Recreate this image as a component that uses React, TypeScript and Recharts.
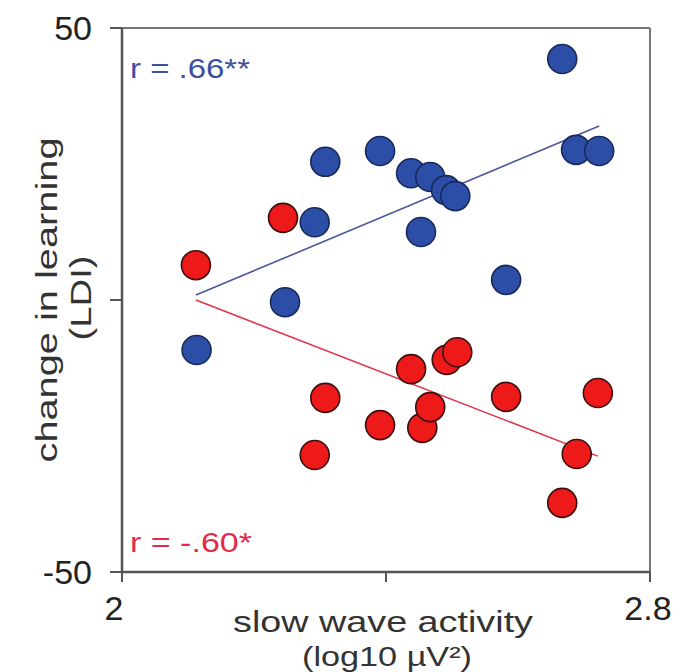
import { ScatterChart, Scatter, XAxis, YAxis, ReferenceLine, Customized } from 'recharts'

const blueX = [2.113, 2.247, 2.292, 2.308, 2.391, 2.438, 2.467, 2.453, 2.491, 2.505, 2.582, 2.667, 2.688, 2.723]
const blueY = [-9.2, -0.4, 14.3, 25.4, 27.4, 23.3, 22.6, 12.5, 20.2, 19.1, 3.7, 44.3, 27.6, 27.4]

const redX = [2.112, 2.244, 2.308, 2.292, 2.391, 2.438, 2.455, 2.467, 2.492, 2.508, 2.582, 2.667, 2.689, 2.721]
const redY = [6.4, 15.1, -18.0, -28.5, -23.0, -12.7, -23.5, -19.7, -11.0, -9.6, -17.8, -37.3, -28.3, -17.1]

// fitted lines, endpoints
const blueFitX = [2.112, 2.723]
const blueFitY = [0.9, 32.0]
const redFitX = [2.112, 2.721]
const redFitY = [0, -28.7]

const xTicks = [2, 2.4, 2.8]
const yTicks = [-50, 0, 50]

const BLUE = '#2D4EA6'
const RED = '#EE1A1A'
const FONT = '"Liberation Sans", Arial, sans-serif'

const toPoints = (xs: number[], ys: number[]) => xs.map((x, i) => ({ x, y: ys[i] }))

const bluePoints = toPoints(blueX, blueY)
const redPoints = toPoints(redX, redY)
const blueFit = toPoints(blueFitX, blueFitY)
const redFit = toPoints(redFitX, redFitY)

const dot = (fill: string, stroke: string) => (props: any) => (
  <circle cx={props.cx} cy={props.cy} r={14.5} fill={fill} stroke={stroke} strokeWidth={1.6} />
)

// x tick: only the end values get a label, "2" sits a bit left of its tick
function XTick(props: any) {
  const { x, y, payload } = props
  const v = payload.value
  if (v === 2.4) return null
  return (
    <text x={v === 2 ? x - 8 : x - 2} y={y} dy="0.71em" textAnchor="middle"
      fontSize={34} fontFamily={FONT} fill="#222">{String(v)}</text>
  )
}

function Titles() {
  return (
    <g fontFamily={FONT} fill="#333">
      <text transform="translate(57,300) rotate(-90)" textAnchor="middle" fontSize={30}
        textLength={325} lengthAdjust="spacingAndGlyphs">change in learning</text>
      <text transform="translate(91,298) rotate(-90)" textAnchor="middle" fontSize={30}
        textLength={85} lengthAdjust="spacingAndGlyphs">(LDI)</text>
      <text x={383} y={632} textAnchor="middle" fontSize={30}
        textLength={300} lengthAdjust="spacingAndGlyphs">slow wave activity</text>
      <text x={387} y={666} textAnchor="middle" fontSize={27}
        textLength={170} lengthAdjust="spacingAndGlyphs">(log10 µV²)</text>
      <text x={130} y={78} fontSize={28} fill="#3F4FA0"
        textLength={120} lengthAdjust="spacingAndGlyphs">r = .66**</text>
      <text x={130} y={552} fontSize={28} fill="#E32A4B"
        textLength={122} lengthAdjust="spacingAndGlyphs">r = -.60*</text>
    </g>
  )
}

export default function App() {
  return (
    <div style={{ position: 'absolute', left: 0, top: 0, background: '#fff' }}>
      <ScatterChart width={680} height={672} margin={{ top: 28, right: 30, left: 0, bottom: 0 }}>
        <XAxis
          type="number"
          dataKey="x"
          domain={[2, 2.8]}
          ticks={xTicks}
          height={100}
          tickSize={10}
          tickMargin={14}
          axisLine={{ stroke: '#555', strokeWidth: 2.5 }}
          tickLine={{ stroke: '#555', strokeWidth: 2 }}
          tick={<XTick />}
          allowDataOverflow
        />
        <YAxis
          type="number"
          dataKey="y"
          domain={[-50, 50]}
          ticks={yTicks}
          tickFormatter={(v) => (v === 0 ? '' : String(v))}
          width={122}
          tickSize={12}
          tickMargin={18}
          axisLine={{ stroke: '#555', strokeWidth: 2.5 }}
          tickLine={{ stroke: '#555', strokeWidth: 2 }}
          tick={{ fill: '#222', fontSize: 34, fontFamily: FONT }}
          allowDataOverflow
        />
        <ReferenceLine y={50} stroke="#777" strokeWidth={2} />
        <ReferenceLine x={2.8} stroke="#777" strokeWidth={2} />
        <Scatter data={blueFit} line={{ stroke: '#4A5899', strokeWidth: 1.6 }} shape={() => null} isAnimationActive={false} />
        <Scatter data={redFit} line={{ stroke: '#E0354F', strokeWidth: 1.6 }} shape={() => null} isAnimationActive={false} />
        <Scatter data={redPoints} shape={dot(RED, '#3A1010')} isAnimationActive={false} />
        <Scatter data={bluePoints} shape={dot(BLUE, '#182A5C')} isAnimationActive={false} />
        <Customized component={Titles} />
      </ScatterChart>
    </div>
  )
}
